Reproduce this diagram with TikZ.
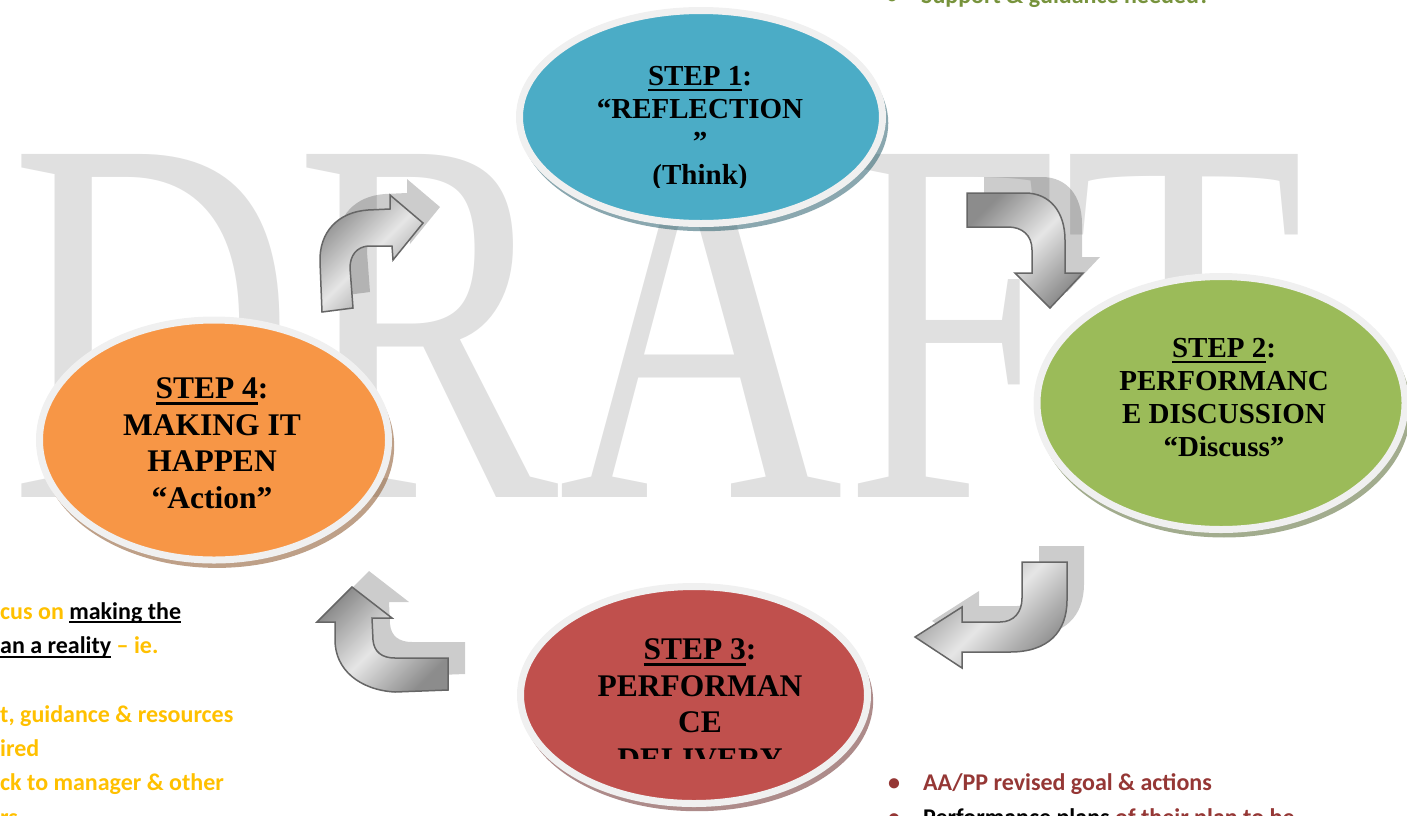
\documentclass[tikz,border=0pt]{standalone}
\usepackage{fontspec}
\setmainfont{Liberation Serif}
\newfontfamily\notefont{Carlito}
\usepackage{xcolor}
\usetikzlibrary{shapes.geometric,shadows}

\definecolor{stepblue}{HTML}{4BACC6}
\definecolor{stepgreen}{HTML}{9BBB59}
\definecolor{stepred}{HTML}{C0504D}
\definecolor{steporange}{HTML}{F79646}
\definecolor{steprim}{HTML}{F0F0F0}
\definecolor{notegreen}{HTML}{77933C}
\definecolor{notered}{HTML}{953735}
\definecolor{noteorange}{HTML}{FFC000}

\newcommand{\notebullet}{\makebox[35pt][l]{\textbullet}}
% underline with fixed depth
\newlength{\uldepth}
\newsavebox{\ulbox}
\newcommand{\ulthick}{2.4pt}
\newcommand{\uline}[1]{\sbox{\ulbox}{#1}\rlap{\rule[-\uldepth]{\wd\ulbox}{\ulthick}}\usebox{\ulbox}}

% bent block arrows (pixel coordinates)
\def\arrowreflect{(322,312) -- (320,262) .. controls (319,232) and (338,212) .. (368,210) -- (390,209) -- (390,195) -- (423,223) -- (393,260) -- (392,246) -- (368,246) .. controls (357,247) and (350,255) .. (350,268) -- (353,308) -- cycle}
\def\arrowdiscuss{(967,193) -- (1025,193) .. controls (1050,193) and (1065,212) .. (1065,240) -- (1065,273) -- (1083,273) -- (1050,308) -- (1015,273) -- (1032,273) -- (1032,250) .. controls (1032,235) and (1022,227) .. (1008,227) -- (967,227) -- cycle}
\def\arrowdeliver{(1022,562) -- (1067,562) -- (1067,600) .. controls (1067,632) and (1048,652) .. (1010,652) -- (962,652) -- (962,668) -- (915,637) -- (962,607) -- (962,622) -- (1000,622) .. controls (1014,622) and (1022,612) .. (1022,598) -- cycle}
\def\arrowaction{(448,658) -- (448,690) -- (395,692) .. controls (360,690) and (335,670) .. (335,640) -- (335,622) -- (317,622) -- (352,587) -- (392,618) -- (372,618) -- (373,640) .. controls (374,652) and (382,658) .. (395,658) -- cycle}

\begin{document}
\begin{tikzpicture}[x=1pt,y=-1pt,
    stepshape/.style={ellipse, draw=steprim, line width=7pt, inner sep=0pt},
    stepshadow/.style={shadow xshift=3pt, shadow yshift=-6pt, shadow scale=1.015, fill=#1!55!black, opacity=0.55},
    steptext/.style={font=\bfseries\fontsize{29}{33}\selectfont\setlength{\uldepth}{6pt}, align=center, anchor=base, inner sep=0pt},
    bigsteptext/.style={steptext, font=\bfseries\fontsize{31.5}{36.5}\selectfont\setlength{\uldepth}{6pt}},
    notetext/.style={font=\notefont\bfseries\fontsize{24}{34.3}\selectfont\setlength{\uldepth}{4pt}\renewcommand{\ulthick}{2pt}, align=left, anchor=base west, inner sep=0pt},
    arrowshadow/.style={fill=black, opacity=0.2},
    arrowbody/.style={draw=black!60, line width=1.5pt, top color=black!45, bottom color=black!45, middle color=black!10, shading angle=45}]
    \useasboundingbox (0,0) rectangle (1407,815);

    % Watermark
    \node[text=black!12, anchor=base west, inner sep=0pt, font=\fontsize{100}{100}\selectfont] (draft) at (10,497) {\scalebox{3.95}[5.24]{DRAFT}};

    % Notes (base = last line)
    \node[notetext, text=notegreen] (discussnote) at (886,3) {\notebullet Support \& guidance needed?};
    \node[notetext, text=notered] (delivernote) at (888,825)
      {\notebullet AA/PP revised goal \& actions\\ \notebullet\textcolor{black}{Performance plans} of their plan to be};
    \node[notetext, text=noteorange] (actionnote) at (0,825)
      {cus on \textcolor{black}{\uline{making the}}\\ \textcolor{black}{\uline{an a reality}} – ie.\\ \mbox{}\\ t, guidance \& resources\\ ired\\ ck to manager \& other\\ rs};

    % Arrows
    \foreach \bent in {\arrowreflect,\arrowdiscuss,\arrowdeliver,\arrowaction}{
      \fill[arrowshadow, shift={(17,-16)}] \bent;
      \draw[arrowbody] \bent;
    }

    % Step 1
    \node[stepshape, fill=stepblue, minimum width=363pt, minimum height=213pt, drop shadow={stepshadow=stepblue}] (reflect) at (701,117) {};
    \begin{scope}
      \clip (520,40) rectangle (880,187);
      \node[steptext] (reflecttext) at (700,184) {\uline{STEP 1}:\\“REFLECTION\\”\\(Think)};
    \end{scope}

    % Step 2
    \node[stepshape, fill=stepgreen, minimum width=368pt, minimum height=253pt, drop shadow={stepshadow=stepgreen}] (discuss) at (1221,403) {};
    \node[steptext] (discusstext) at (1224,456) {\uline{STEP 2}:\\PERFORMANC\\E DISCUSSION\\“Discuss”};

    % Step 3
    \node[stepshape, fill=stepred, minimum width=347pt, minimum height=217pt, drop shadow={stepshadow=stepred}] (deliver) at (694,695) {};
    \begin{scope}
      \clip (520,620) rectangle (870,758);
      \node[bigsteptext] (delivertext) at (700,769) {\uline{STEP 3}:\\PERFORMAN\\CE\\DELIVERY};
    \end{scope}

    % Step 4
    \node[stepshape, fill=steporange, minimum width=349pt, minimum height=240pt, drop shadow={stepshadow=steporange}] (action) at (214,440) {};
    \node[bigsteptext] (actiontext) at (212,508) {\uline{STEP 4}:\\MAKING IT\\HAPPEN\\“Action”};

\end{tikzpicture}
\end{document}
